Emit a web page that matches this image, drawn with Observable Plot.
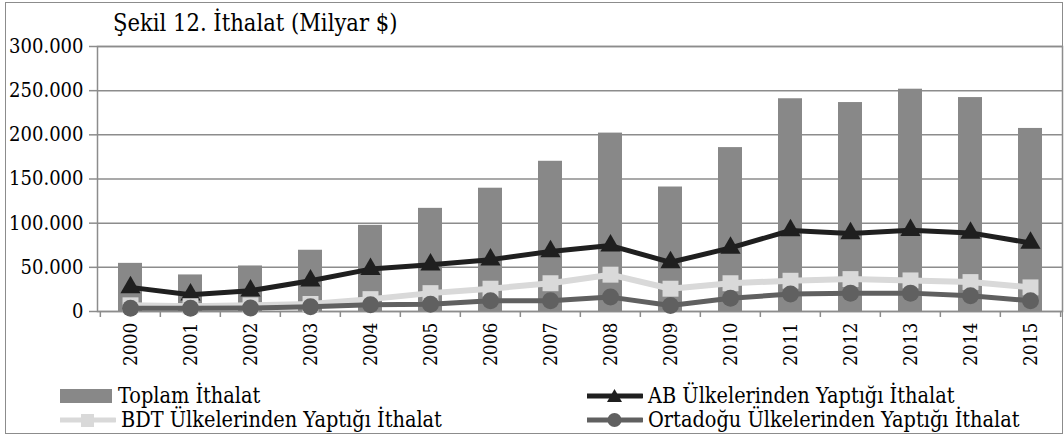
<!DOCTYPE html>
<html>
<head>
<meta charset="utf-8">
<script src="https://cdn.jsdelivr.net/npm/d3@7"></script>
<script src="https://cdn.jsdelivr.net/npm/@observablehq/plot@0.6"></script>
<style>
  body { margin: 0; background: #fff; font-family: "DejaVu Serif Condensed", "DejaVu Serif", serif; }
  #frame { position: absolute; left: 5px; top: 2px; width: 1056px; height: 430px; border: 1.5px solid #8c8c8c; }
  #chart { position: absolute; left: 0; top: 0; }
  #title { position: absolute; left: 113px; top: 11px; font-size: 23.5px; line-height: 24px; color: #000; white-space: nowrap; }
  .leg { position: absolute; display: flex; align-items: center; font-size: 21.5px; line-height: 22px; white-space: nowrap; color: #000; }
  .leg svg { margin-right: 5px; }
</style>
</head>
<body>
<div id="frame"></div>
<div id="chart"></div>
<div id="title">Şekil 12. İthalat (Milyar $)</div>
<div id="legend"></div>
<script>
// Data (million $)
const years = ["2000","2001","2002","2003","2004","2005","2006","2007","2008","2009","2010","2011","2012","2013","2014","2015"];
const toplam = [54503, 41399, 51554, 69340, 97540, 116774, 139576, 170063, 201964, 140928, 185544, 240842, 236545, 251661, 242177, 207234];
const ab = [27300, 19000, 23500, 34900, 48000, 53000, 58700, 68000, 74600, 55700, 72000, 91700, 88300, 92000, 89000, 77600];
const bdt = [7000, 6000, 7000, 8500, 14000, 20800, 25800, 32000, 41700, 25800, 32000, 34800, 36700, 35200, 33300, 27300];
const orta = [3800, 3800, 4000, 5300, 7600, 8300, 12200, 12200, 16300, 6800, 15100, 19700, 20800, 20800, 17800, 12200];
const yTicks = [0, 50000, 100000, 150000, 200000, 250000, 300000];
const seriesNames = ["Toplam İthalat", "AB Ülkelerinden Yaptığı İthalat", "BDT Ülkelerinden Yaptığı İthalat", "Ortadoğu Ülkelerinden Yaptığı İthalat"];

const data = years.map((y, i) => ({year: y, toplam: toplam[i], ab: ab[i], bdt: bdt[i], orta: orta[i]}));

const W = 1064, H = 372, mL = 97, mR = 2, mT = 46, mB = 61;
const step = (W - mL - mR) / years.length;
const fmt = d3.formatLocale({decimal: ",", thousands: ".", grouping: [3], currency: ["", "$"]}).format(",d");
const gridColor = "#8c8c8c";
const serif = "'DejaVu Serif Condensed', 'DejaVu Serif', serif";

const chart = Plot.plot({
  width: W, height: H,
  marginLeft: mL, marginRight: mR, marginTop: mT, marginBottom: mB,
  style: {fontFamily: serif, fontSize: "20px", color: "#000", background: "transparent"},
  x: {type: "band", domain: years, paddingInner: 0.6, paddingOuter: 0.3, label: null},
  y: {domain: [0, 300000], label: null},
  marks: [
    Plot.gridY(yTicks, {stroke: gridColor, strokeOpacity: 1, strokeWidth: 1.5}),
    Plot.barY(data, {x: "year", y: "toplam", fill: "#888888"}),
    Plot.frame({stroke: gridColor, strokeWidth: 1.5}),
    Plot.ruleX(years, {x: d => d, dx: -step / 2, y1: 0, y2: -6800, stroke: gridColor, strokeWidth: 1.5}),
    Plot.ruleX([years[years.length - 1]], {x: d => d, dx: step / 2, y1: 0, y2: -6800, stroke: gridColor, strokeWidth: 1.5}),
    Plot.axisY(yTicks, {tickSize: 8, tickPadding: 6, tickFormat: fmt, stroke: gridColor, strokeWidth: 1.5, fontSize: 20, fontFamily: serif, fill: "#000"}),
    Plot.axisX({tickSize: 0, tickPadding: 11, tickRotate: -90, fontSize: 19, fontFamily: serif, fill: "#000"}),
    Plot.line(data, {x: "year", y: "ab", stroke: "#1f1f1f", strokeWidth: 5}),
    Plot.dot(data, {x: "year", y: "ab", symbol: "triangle", r: 7.5, fill: "#1f1f1f", stroke: "none"}),
    Plot.line(data, {x: "year", y: "bdt", stroke: "#d9d9d9", strokeWidth: 6}),
    Plot.dot(data, {x: "year", y: "bdt", symbol: "square", r: 9, fill: "#d9d9d9", stroke: "none"}),
    Plot.line(data, {x: "year", y: "orta", stroke: "#606060", strokeWidth: 5}),
    Plot.dot(data, {x: "year", y: "orta", symbol: "circle", r: 8.5, fill: "#606060", stroke: "none"})
  ]
});
document.getElementById("chart").appendChild(chart);

// Legend
const legend = document.getElementById("legend");
const items = [
  {name: seriesNames[0], left: 60, top: 385, kind: "bar", color: "#888888"},
  {name: seriesNames[1], left: 587, top: 385, kind: "triangle", color: "#1f1f1f"},
  {name: seriesNames[2], left: 60, top: 409, kind: "square", color: "#d9d9d9"},
  {name: seriesNames[3], left: 587, top: 409, kind: "circle", color: "#606060"}
];
for (const it of items) {
  const div = document.createElement("div");
  div.className = "leg";
  div.style.left = it.left + "px";
  div.style.top = it.top + "px";
  let sw;
  if (it.kind === "bar") {
    sw = `<svg width="53" height="22"><rect x="0" y="4" width="52" height="14" fill="${it.color}"/></svg>`;
  } else {
    let sym = "";
    if (it.kind === "triangle") sym = `<path d="M27.5,4 L35,17 L20,17 Z" fill="${it.color}"/>`;
    if (it.kind === "square") sym = `<rect x="21" y="5" width="13" height="13" fill="${it.color}"/>`;
    if (it.kind === "circle") sym = `<circle cx="27.5" cy="11" r="7" fill="${it.color}"/>`;
    sw = `<svg width="56" height="22"><line x1="0" x2="55" y1="11" y2="11" stroke="${it.color}" stroke-width="5" stroke-linecap="round"/>${sym}</svg>`;
  }
  div.innerHTML = sw + `<span>${it.name}</span>`;
  legend.appendChild(div);
}
</script>
</body>
</html>
